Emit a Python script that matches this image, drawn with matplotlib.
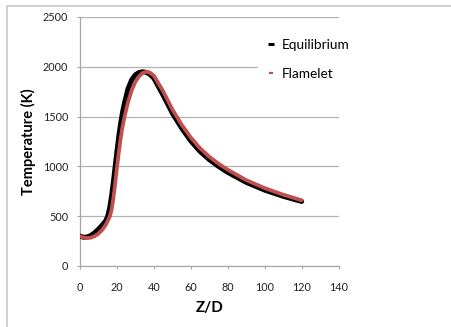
import matplotlib
matplotlib.use("Agg")
import matplotlib.pyplot as plt
import matplotlib.patches as patches
from matplotlib.lines import Line2D

plt.rcParams['font.family'] = ['Lato', 'DejaVu Sans']

# Equilibrium curve
eq_x = [0, 2, 4, 6, 8, 10, 12, 14, 15, 16, 17, 18, 19, 20, 21, 22, 23, 24,
        26, 28, 30, 32, 34, 36, 38, 40, 45, 50, 55, 60, 65, 70, 75, 80,
        90, 100, 110, 120]
eq_t = [300, 288, 292, 308, 335, 370, 410, 455, 500, 575, 690, 830, 990, 1150,
        1300, 1430, 1540, 1630, 1780, 1870, 1920, 1943, 1950, 1944, 1922, 1885,
        1715, 1535, 1385, 1255, 1150, 1068, 1000, 940, 840, 762, 700, 648]

# Flamelet curve
fl_x = [0, 2, 4, 6, 8, 10, 12, 14, 16, 17, 18, 19, 20, 21, 22, 23, 24, 25,
        26, 28, 30, 32, 34, 36, 38, 40, 45, 50, 55, 60, 65, 70, 75, 80,
        90, 100, 110, 120]
fl_t = [300, 285, 280, 285, 300, 325, 362, 415, 490, 555, 670, 820, 990, 1140,
        1280, 1395, 1490, 1570, 1645, 1765, 1850, 1905, 1940, 1950, 1940, 1910,
        1755, 1572, 1420, 1290, 1182, 1097, 1027, 967, 862, 782, 716, 660]

x_ticks = [0, 20, 40, 60, 80, 100, 120, 140]
y_ticks = [0, 500, 1000, 1500, 2000, 2500]

W, H = 451, 327
fig = plt.figure(figsize=(W / 100, H / 100), dpi=100)
ax = fig.add_axes([80 / W, 1 - 266 / H, 258.6 / W, 249 / H])

# outer chart frame
frame = patches.Rectangle((7 / W, -0.1), 1.2, 1 - 5.5 / H + 0.1,
                          transform=fig.transFigure, fill=False,
                          edgecolor='#c8c8c8', linewidth=1.2, clip_on=False)
fig.patches.append(frame)

ax.plot(eq_x, eq_t, color='black', linewidth=3.6, solid_capstyle='round',
        solid_joinstyle='round', zorder=3)
ax.plot(fl_x, fl_t, color='#c0504d', linewidth=2.7, solid_capstyle='round',
        solid_joinstyle='round', zorder=4)

ax.set_xlim(0, 140)
ax.set_ylim(0, 2500)
ax.set_xticks(x_ticks)
ax.set_yticks(y_ticks)
ax.yaxis.grid(True, color='#b3b3b3', linewidth=0.9)
ax.set_axisbelow(True)

for s in ['top', 'right']:
    ax.spines[s].set_visible(False)
for s in ['left', 'bottom']:
    ax.spines[s].set_color('#a6a6a6')
    ax.spines[s].set_linewidth(0.9)

ax.tick_params(axis='x', direction='out', length=2.5, width=0.8,
               color='#a6a6a6', pad=9, labelsize=7.8, labelcolor='#222222')
ax.tick_params(axis='y', direction='out', length=2.5, width=0.8,
               color='#a6a6a6', pad=6, labelsize=7.8, labelcolor='#222222')

ax.set_xlabel('Z/D', fontsize=11, fontweight='bold', labelpad=6)
ax.set_ylabel('Temperature (K)', fontsize=10.5, fontweight='bold', labelpad=5)

handles = [
    Line2D([], [], color='black', marker='_', markersize=5, markeredgewidth=2.2,
           linestyle='None'),
    Line2D([], [], color='#c0504d', marker='_', markersize=3,
           markeredgewidth=1.5, linestyle='None'),
]
leg = ax.legend(handles, ['Equilibrium', 'Flamelet'], loc='upper left',
                bbox_to_anchor=(0.69, 0.945), fontsize=9.8, frameon=True,
                facecolor='white', edgecolor='none', framealpha=1,
                handlelength=0.6, handletextpad=0.5, labelspacing=1.25,
                borderaxespad=0, borderpad=0.6, fancybox=False)
leg.get_frame().set_linewidth(0)
leg.set_clip_on(False)

fig.savefig('out.png', dpi=100)
